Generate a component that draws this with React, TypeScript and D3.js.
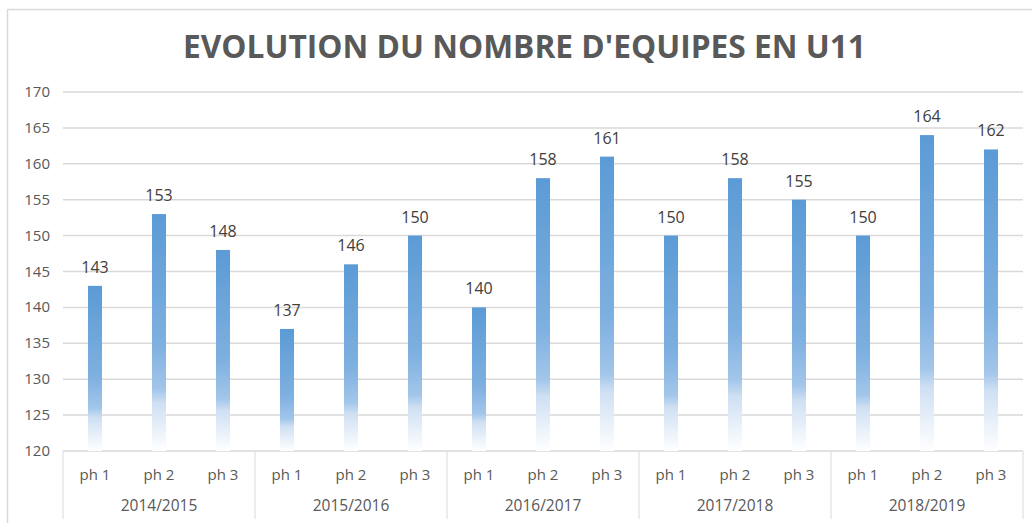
import React from "react";
import * as d3 from "d3";

const TITLE = "EVOLUTION DU NOMBRE D'EQUIPES EN U11";
const seasons = ["2014/2015", "2015/2016", "2016/2017", "2017/2018", "2018/2019"];
const phases = ["ph 1", "ph 2", "ph 3"];
const values2014 = [143, 153, 148];
const values2015 = [137, 146, 150];
const values2016 = [140, 158, 161];
const values2017 = [150, 158, 155];
const values2018 = [150, 164, 162];
const seriesValues = [values2014, values2015, values2016, values2017, values2018];
const yTicks = [120, 125, 130, 135, 140, 145, 150, 155, 160, 165, 170];

const W = 1032;
const H = 523;
const left = 63;
const right = 1023;
const top = 92;
const bottom = 451;

export default function App() {
  const rows = seasons.flatMap((s, si) =>
    phases.map((p, pi) => ({ key: `${s}-${p}`, season: s, phase: p, value: seriesValues[si][pi] }))
  );
  const x = d3.scaleBand<string>().domain(rows.map((r) => r.key)).range([left, right]).paddingInner(0).paddingOuter(0);
  const xs = d3.scaleBand<string>().domain(seasons).range([left, right]);
  const y = d3.scaleLinear().domain([120, 170]).range([bottom, top]);
  const barW = 14;
  const font = "Open Sans, 'Noto Sans', sans-serif";

  return (
    <svg width={W} height={H} style={{ position: "absolute", left: 0, top: 0, background: "#fff" }}>
      <defs>
        <linearGradient id="barGrad" x1="0" y1="0" x2="0" y2="1">
          <stop offset="0" stopColor="#5b9bd5" />
          <stop offset="0.55" stopColor="#7eb0e0" />
          <stop offset="0.74" stopColor="#a3c6ea" />
          <stop offset="0.8" stopColor="#cfe0f3" />
          <stop offset="1" stopColor="#ffffff" />
        </linearGradient>
      </defs>
      <rect x={0} y={0} width={W} height={H} fill="#fff" />
      {/* outer border */}
      <line x1={7.5} y1={9.5} x2={7.5} y2={H} stroke="#d9d9d9" strokeWidth={1.5} />
      <line x1={7.5} y1={9.5} x2={W} y2={9.5} stroke="#d9d9d9" strokeWidth={1.5} />
      <text
        x={(183 + 866) / 2}
        y={58}
        textAnchor="middle"
        fontFamily={font}
        fontWeight="bold"
        fontSize={32}
        fill="#595959"
        textLength={683}
        lengthAdjust="spacingAndGlyphs"
      >
        {TITLE}
      </text>
      {/* gridlines */}
      {yTicks.map((t) => (
        <line key={t} x1={left} x2={right} y1={y(t)} y2={y(t)} stroke="#d9d9d9" strokeWidth={1.5} />
      ))}
      {yTicks.map((t) => (
        <text key={"l" + t} x={50} y={y(t) + 5} textAnchor="end" fontFamily={font} fontSize={15} fill="#595959">
          {t}
        </text>
      ))}
      {/* bars */}
      {rows.map((r) => {
        const cx = (x(r.key) as number) + x.bandwidth() / 2;
        return (
          <g key={r.key}>
            <rect x={cx - barW / 2} y={y(r.value)} width={barW} height={y(120) - y(r.value)} fill="url(#barGrad)" />
            <text x={cx} y={y(r.value) - 13} textAnchor="middle" fontFamily={font} fontSize={16} fill="#404040">
              {r.value}
            </text>
            <text x={cx} y={480} textAnchor="middle" fontFamily={font} fontSize={15} fill="#595959">
              {r.phase}
            </text>
          </g>
        );
      })}
      {/* group labels and dividers */}
      {seasons.map((s) => {
        const x0 = xs(s) as number;
        return (
          <g key={s}>
            <text x={x0 + xs.bandwidth() / 2} y={511} textAnchor="middle" fontFamily={font} fontSize={15.5} fill="#595959">
              {s}
            </text>
          </g>
        );
      })}
      {[...seasons.map((s) => xs(s) as number), right].map((xx, i) => (
        <line key={"d" + i} x1={xx} x2={xx} y1={bottom} y2={519} stroke="#d9d9d9" strokeWidth={1} />
      ))}
    </svg>
  );
}
